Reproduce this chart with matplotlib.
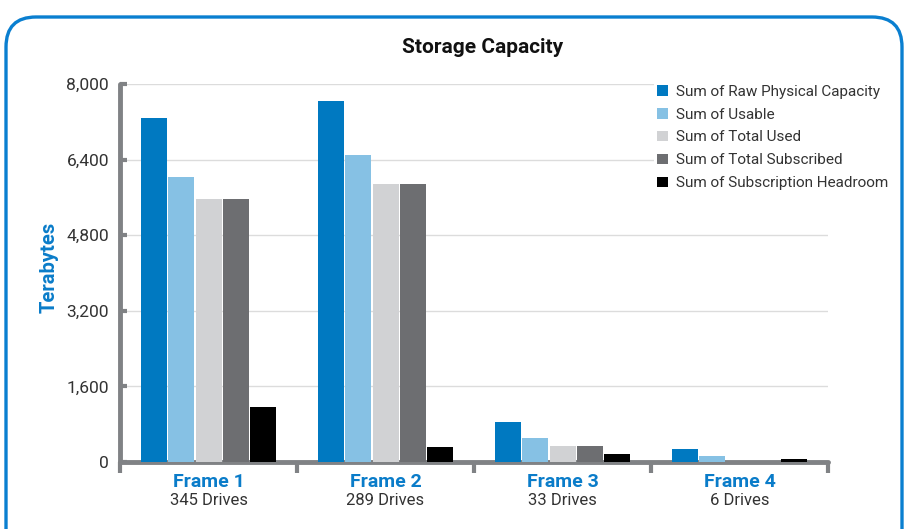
import matplotlib
matplotlib.use("Agg")
import matplotlib.pyplot as plt
import numpy as np
from matplotlib.patches import FancyBboxPatch, Patch
from matplotlib.transforms import blended_transform_factory

plt.rcParams['font.family'] = ['Roboto', 'DejaVu Sans']

frames = ["Frame 1", "Frame 2", "Frame 3", "Frame 4"]
drives = ["345 Drives", "289 Drives", "33 Drives", "6 Drives"]
series_names = ["Sum of Raw Physical Capacity", "Sum of Usable", "Sum of Total Used",
                "Sum of Total Subscribed", "Sum of Subscription Headroom"]
raw_physical = [7280, 7640, 846, 275]
usable = [6030, 6500, 508, 127]
total_used = [5565, 5885, 339, 0]
total_subscribed = [5565, 5885, 339, 0]
headroom = [1165, 317, 169, 63]
yticks = [0, 1600, 3200, 4800, 6400, 8000]
colors = ["#0079c1", "#86c1e4", "#d1d2d4", "#6d6e71", "#000000"]

series = [raw_physical, usable, total_used, total_subscribed, headroom]

fig = plt.figure(figsize=(9.08, 5.29), dpi=100)
# rounded blue border
border = FancyBboxPatch((0.06, -0.6), 8.96, 5.72,
                        boxstyle="round,pad=0,rounding_size=0.3",
                        transform=fig.dpi_scale_trans, fill=False,
                        edgecolor="#0a7fd0", linewidth=2.4, clip_on=False)
fig.patches.append(border)

ax = fig.add_axes([0.1322, 0.1267, 0.9119 - 0.1322, 0.8412 - 0.1267])
x = np.arange(len(frames))
w = 0.153
for i, (vals, c, name) in enumerate(zip(series, colors, series_names)):
    ax.bar(x + (i - 2) * w, vals, width=w * 0.96, color=c, label=name, zorder=3)

ax.set_xlim(-0.5, 3.5)
ax.set_ylim(0, 8000)
ax.set_yticks(yticks)
ax.set_yticklabels([f"{v:,}" for v in yticks], fontsize=12.5, color="#333333")
ax.yaxis.grid(True, color="#dcdcdc", linewidth=1.0, zorder=0)
ax.set_axisbelow(True)
for s in ["top", "right"]:
    ax.spines[s].set_visible(False)
for s in ["left", "bottom"]:
    ax.spines[s].set_color("#808285")
    ax.spines[s].set_linewidth(3.5)
    ax.spines[s].set_capstyle("round")
ax.tick_params(axis="y", direction="in", length=5, width=3, color="#808285", pad=8)
ax.set_xticks([-0.5, 0.5, 1.5, 2.5, 3.5])
ax.set_xticklabels([])
ax.tick_params(axis="x", direction="out", length=8, width=3, color="#808285")
for t in ax.xaxis.get_major_ticks() + ax.yaxis.get_major_ticks():
    t.tick1line.set_solid_capstyle("round")
    t.tick2line.set_solid_capstyle("round")

trans = blended_transform_factory(ax.transData, ax.transAxes)
for xi, f, d in zip(x, frames, drives):
    ax.text(xi, -0.052, f, transform=trans, ha="center", va="center",
            fontsize=14, fontweight="bold", color="#0a7cc9")
    ax.text(xi, -0.102, d, transform=trans, ha="center", va="center",
            fontsize=12, color="#333333")

fig.text(49 / 908, 1 - 267 / 529, "Terabytes", rotation=90, ha="center", va="center",
         fontsize=14.5, fontweight="bold", color="#0a7cc9")
fig.text(0.531, 0.911, "Storage Capacity", ha="center", va="center",
         fontsize=15, fontweight="bold", color="#111111")

handles = [Patch(facecolor=c, edgecolor="none") for c in colors]
leg = fig.legend(handles, series_names, loc="upper left", bbox_to_anchor=(0.712, 0.86),
                 frameon=True, fontsize=11, handlelength=0.7, handleheight=0.7,
                 handletextpad=0.5, labelspacing=0.58, borderpad=0.2,
                 labelcolor="#333333")
leg.get_frame().set_edgecolor("none")
leg.get_frame().set_facecolor("white")
leg.get_frame().set_alpha(1)

fig.savefig("out.png", dpi=100)
